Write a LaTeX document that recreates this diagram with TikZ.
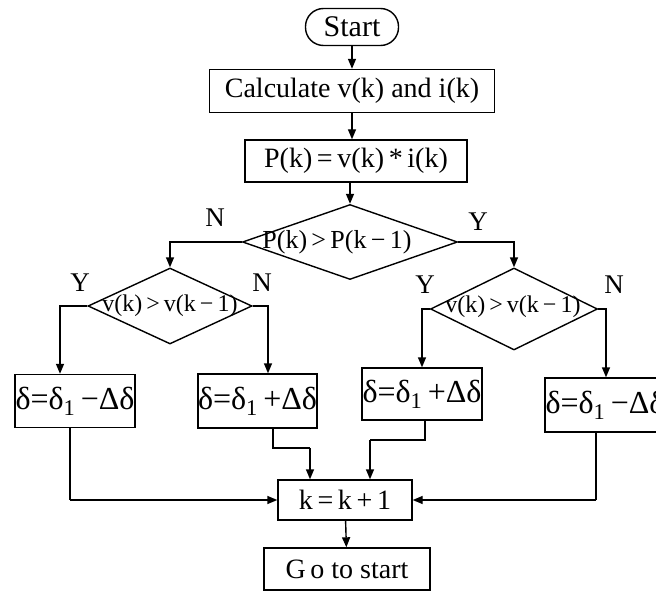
\documentclass[tikz,border=0pt]{standalone}
\usepackage{fontspec}
\setmainfont{Liberation Serif}
\usetikzlibrary{shapes.geometric,arrows.meta}
\begin{document}
\begin{tikzpicture}[x=1pt,y=-1pt,
  line width=1.4pt,
  >={Triangle[length=10pt,width=8pt]},
  every node/.style={font=\fontsize{28}{30}\selectfont, inner sep=0pt},
  procbox/.style={draw, rectangle, minimum width=#1},
  dec/.style={draw, diamond, inner sep=0pt},
  lbl/.style={font=\fontsize{27}{29}\selectfont},
  dtext/.style={font=\fontsize{24}{26}\selectfont},
  dlt/.style={font=\fontsize{32}{34}\selectfont}
]
\useasboundingbox (0,0) rectangle (656,591);
\node[draw, rounded corners=18pt, minimum width=93pt, minimum height=37pt] (start) at (352,27) {\fontsize{30}{32}\selectfont Start};
\node[procbox=285pt, minimum height=43pt] (calc) at (352,91) {Calculate v(k) and i(k)};
\node[procbox=222pt, minimum height=42pt] (pk) at (356,161) {P(k)\,=\,v(k)\,*\,i(k)};
\node[dec, minimum width=215pt, minimum height=75pt] (d0) at (350,242) {};
\node[dtext, font=\fontsize{26}{28}\selectfont] (d0t) at (337,242) {P(k)\,>\,P(k\,−\,1)};
\node[dec, minimum width=164pt, minimum height=76pt] (ld) at (170,306) {};
\node[dtext] (ldt) at (170,306) {v(k)\,>\,v(k\,−\,1)};
\node[dec, minimum width=167pt, minimum height=82pt] (rd) at (514,309) {};
\node[dtext] (rdt) at (513,307) {v(k)\,>\,v(k\,−\,1)};
\node[procbox=120pt, minimum height=53pt, dlt] (b1) at (75,401) {δ=δ\textsubscript{1}\,−Δδ};
\node[procbox=119pt, minimum height=54pt, dlt] (b2) at (257.5,401) {δ=δ\textsubscript{1}\,+Δδ};
\node[procbox=120pt, minimum height=52pt, dlt] (b3) at (422,394) {δ=δ\textsubscript{1}\,+Δδ};
\node[procbox=120pt, minimum height=54pt, dlt] (b4) at (605,405) {δ=δ\textsubscript{1}\,−Δδ};
\node[procbox=134pt, minimum height=40pt] (kk) at (345,500) {k\,=\,k\,+\,1};
\node[procbox=166pt, minimum height=42pt] (go) at (347,569) {G\,o to start};
\node[lbl] (n0) at (215,218) {N};
\node[lbl] (y0) at (478,222) {Y};
\node[lbl] (y1) at (80,283) {Y};
\node[lbl] (n1) at (262,283) {N};
\node[lbl] (y2) at (425,285) {Y};
\node[lbl] (n2) at (614,285) {N};
\coordinate (c1) at (70,500);
\coordinate (c2a) at (273,448);
\coordinate (c2b) at (310,448);
\coordinate (c3a) at (425,440);
\coordinate (c3b) at (370,440);
\coordinate (c4) at (596,500);
\draw[->] (start) -- (calc);
\draw[->] (calc) -- (calc.south |- pk.north);
\draw[->] (pk.south -| d0.north) -- (d0.north);
\draw[->] (d0.west) -| (ld.north);
\draw[->] (d0.east) -| (rd.north);
\draw[->] (ld.west) -| ([xshift=-15pt]b1.north);
\draw[->] (ld.east) -| ([xshift=10.5pt]b2.north);
\draw[->] (rd.west) -| (b3.north);
\draw[->] (rd.east) -| ([xshift=1pt]b4.north);
\draw (b1.south -| c1) -- (c1);
\draw[->] (c1) -- (kk.west);
\draw (b2.south -| c2a) -- (c2a) -- (c2b);
\draw[->] (c2b) -- (kk.north -| c2b);
\draw (b3.south -| c3a) -- (c3a) -- (c3b);
\draw[->] (c3b) -- (kk.north -| c3b);
\draw (b4.south -| c4) -- (c4);
\draw[->] (c4) -- (kk.east);
\draw[->] (kk) -- (go);
\end{tikzpicture}
\end{document}
